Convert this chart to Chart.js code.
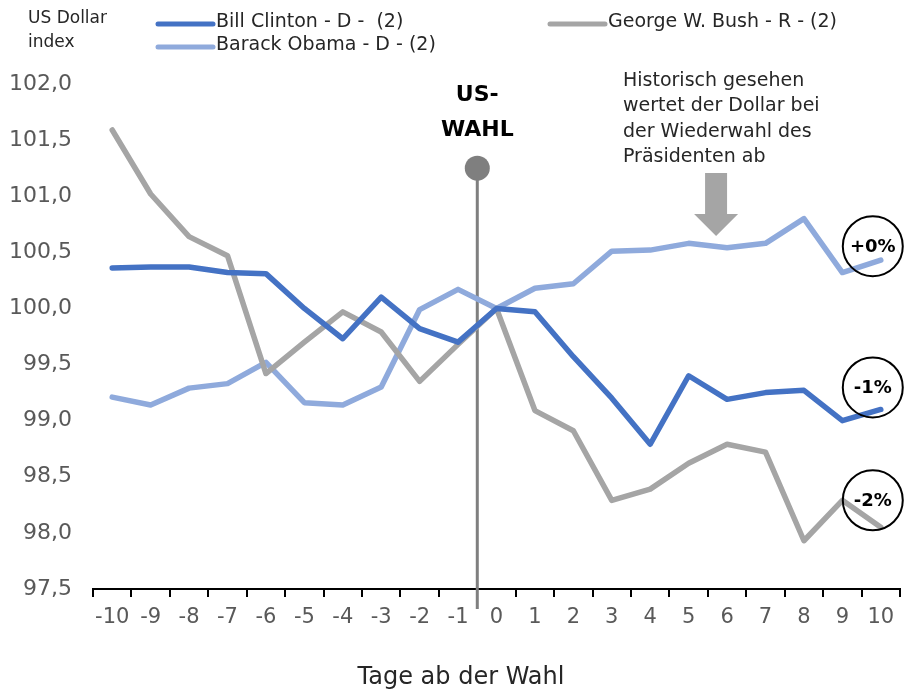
<!DOCTYPE html>
<html>
<head>
<meta charset="utf-8">
<script src="https://cdn.jsdelivr.net/npm/chart.js@4"></script>
<style>
  html, body { margin: 0; padding: 0; background: #fff; }
  #wrap { width: 905px; height: 691px; position: relative; }
</style>
</head>
<body>
<div id="wrap"><canvas id="chart"></canvas></div>
<script>
// Daten
const days = ["-10", "-9", "-8", "-7", "-6", "-5", "-4", "-3", "-2", "-1", "0", "1", "2", "3", "4", "5", "6", "7", "8", "9", "10"];
const clinton = [100.36, 100.37, 100.37, 100.32, 100.31, 100.0, 99.73, 100.1, 99.82, 99.7, 100.0, 99.97, 99.57, 99.2, 98.79, 99.4, 99.19, 99.25, 99.27, 99.0, 99.1];
const bush = [101.59, 101.02, 100.64, 100.47, 99.42, 99.7, 99.97, 99.79, 99.35, 99.68, 100.0, 99.09, 98.91, 98.29, 98.39, 98.62, 98.79, 98.72, 97.93, 98.29, 98.05];
const obama = [99.21, 99.14, 99.29, 99.33, 99.52, 99.16, 99.14, 99.3, 99.99, 100.17, 100.0, 100.18, 100.22, 100.51, 100.52, 100.58, 100.54, 100.58, 100.8, 100.32, 100.43];
const seriesNames = ["Bill Clinton - D -  (2)", "George W. Bush - R - (2)", "Barack Obama - D - (2)"];
const endLabels = ["-1%", "-2%", "+0%"];
const noteLines = ["Historisch gesehen", "wertet der Dollar bei", "der Wiederwahl des", "Präsidenten ab"];

const FONT = "'DejaVu Sans', sans-serif";
const colors = ["#4472C4", "#A5A5A5", "#8FAADC"];
const circleLift = [22, 27, 14]; // Kreis etwas über dem letzten Punkt

const overlay = {
  id: "overlay",
  beforeDatasetsDraw(chart) {
    const ctx = chart.ctx;
    const xs = chart.scales.x;
    const ys = chart.scales.y;
    const area = chart.chartArea;
    // US-Wahl Linie zwischen -1 und 0
    const lx = (xs.getPixelForValue(9) + xs.getPixelForValue(10)) / 2;
    const top = ys.getPixelForValue(101.25);
    ctx.save();
    ctx.strokeStyle = "#7F7F7F";
    ctx.lineWidth = 3;
    ctx.beginPath();
    ctx.moveTo(lx, top);
    ctx.lineTo(lx, area.bottom + 20);
    ctx.stroke();
    ctx.fillStyle = "#7F7F7F";
    ctx.beginPath();
    ctx.arc(lx, top, 12.5, 0, Math.PI * 2);
    ctx.fill();
    ctx.restore();
  },
  afterDraw(chart) {
    const ctx = chart.ctx;
    const xs = chart.scales.x;
    const ys = chart.scales.y;
    const lx = (xs.getPixelForValue(9) + xs.getPixelForValue(10)) / 2;
    ctx.save();

    // US-WAHL
    ctx.fillStyle = "#000";
    ctx.font = "bold 22px " + FONT;
    ctx.textAlign = "center";
    ctx.textBaseline = "middle";
    ctx.fillText("US-", lx, 95);
    ctx.fillText("WAHL", lx, 130);

    // Hinweistext
    ctx.fillStyle = "#262626";
    ctx.font = "19px " + FONT;
    ctx.textAlign = "left";
    noteLines.forEach((t, i) => ctx.fillText(t, 623, 81 + i * 25.5));

    // Pfeil
    const ax = xs.getPixelForValue(16) - 11;
    ctx.fillStyle = "#A5A5A5";
    ctx.beginPath();
    ctx.moveTo(ax - 11, 173);
    ctx.lineTo(ax + 11, 173);
    ctx.lineTo(ax + 11, 214);
    ctx.lineTo(ax + 22, 214);
    ctx.lineTo(ax, 236);
    ctx.lineTo(ax - 22, 214);
    ctx.lineTo(ax - 11, 214);
    ctx.closePath();
    ctx.fill();

    // Endkreise
    ctx.font = "bold 18px " + FONT;
    ctx.textAlign = "center";
    chart.data.datasets.forEach((ds, i) => {
      const last = ds.data.length - 1;
      const px = xs.getPixelForValue(last) - 8;
      const py = ys.getPixelForValue(ds.data[last]) - circleLift[i];
      ctx.strokeStyle = "#000";
      ctx.lineWidth = 2;
      ctx.beginPath();
      ctx.arc(px, py, 30, 0, Math.PI * 2);
      ctx.stroke();
      ctx.fillStyle = "#000";
      ctx.fillText(endLabels[i], px, py + 1);
    });

    // Legende
    ctx.font = "19px " + FONT;
    ctx.textAlign = "left";
    const legendPos = [[158, 24], [550, 24], [158, 47]];
    chart.data.datasets.forEach((ds, i) => {
      const [x, y] = legendPos[i];
      ctx.strokeStyle = ds.borderColor;
      ctx.lineWidth = 5;
      ctx.lineCap = "round";
      ctx.beginPath();
      ctx.moveTo(x, y);
      ctx.lineTo(x + 55, y);
      ctx.stroke();
      ctx.fillStyle = "#262626";
      ctx.fillText(ds.label, x + 58, y - 2);
    });

    // Achsentitel
    ctx.fillStyle = "#262626";
    ctx.font = "17px " + FONT;
    ctx.fillText("US Dollar", 28, 19);
    ctx.fillText("index", 28, 43);
    ctx.font = "24px " + FONT;
    ctx.textAlign = "center";
    ctx.fillText("Tage ab der Wahl", 461, 678);
    ctx.restore();
  },
};

const data = [clinton, bush, obama];
new Chart(document.getElementById("chart"), {
  type: "line",
  data: {
    labels: days,
    datasets: data.map((d, i) => ({
      label: seriesNames[i],
      data: d,
      borderColor: colors[i],
      borderWidth: 5.5,
      pointRadius: 0,
      tension: 0,
      fill: false,
      borderCapStyle: "round",
      borderJoinStyle: "round",
    })),
  },
  options: {
    responsive: true,
    maintainAspectRatio: false,
    animation: false,
    layout: { padding: { top: 84, right: 5, left: 0, bottom: 0 } },
    plugins: {
      legend: { display: false },
      tooltip: { enabled: false },
    },
    scales: {
      x: {
        type: "category",
        offset: true,
        grid: {
          display: true,
          offset: true,
          drawOnChartArea: false,
          drawTicks: true,
          tickLength: 8,
          color: "#000",
          lineWidth: 2,
        },
        border: { display: true, color: "#000", width: 2 },
        ticks: {
          color: "#595959",
          font: { family: FONT, size: 21 },
          maxRotation: 0,
          autoSkip: false,
          padding: 8,
        },
        afterFit(scale) { scale.height = 102; },
      },
      y: {
        min: 97.5,
        max: 102,
        grid: { display: false },
        border: { display: false },
        ticks: {
          stepSize: 0.5,
          color: "#595959",
          font: { family: FONT, size: 22 },
          padding: 13,
          callback: (v) => v.toFixed(1).replace(".", ","),
        },
        afterFit(scale) { scale.width = 93; },
      },
    },
  },
  plugins: [overlay],
});
</script>
</body>
</html>
